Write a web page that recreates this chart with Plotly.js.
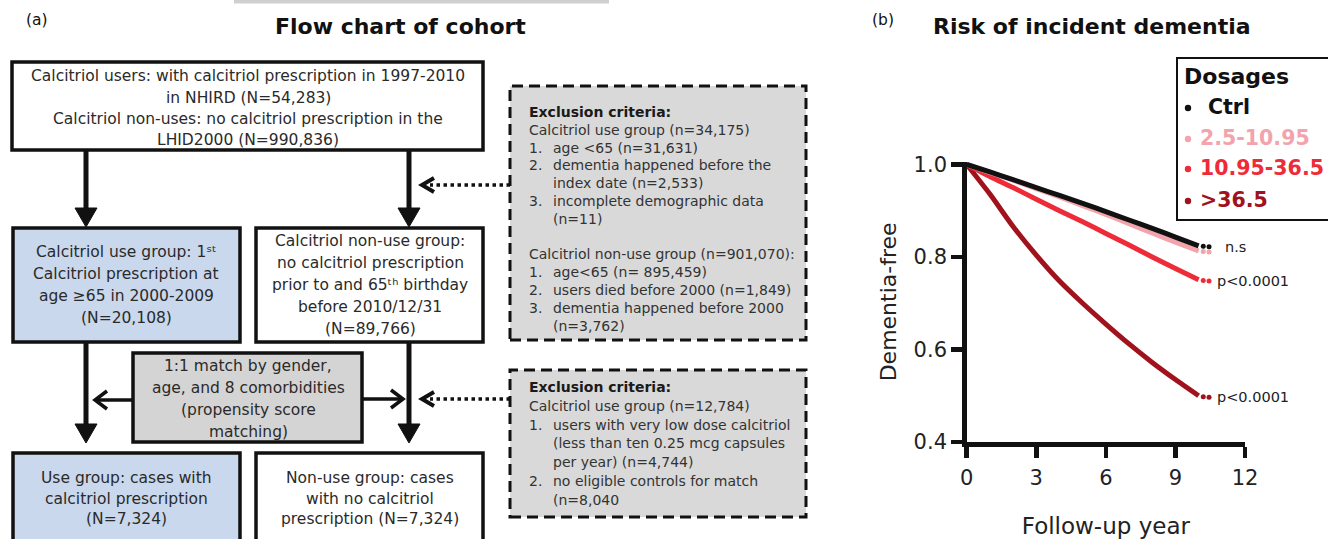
<!DOCTYPE html>
<html><head><meta charset="utf-8">
<script src="https://cdn.plot.ly/plotly-3.0.1.min.js"></script>
<style>html,body{margin:0;padding:0;background:#fff;}#chart{width:1328px;height:539px;}</style>
</head><body><div id="chart"></div>
<script>
// ---------------- data ----------------
const years     = [0, 1, 2, 3, 4, 5, 6, 7, 8, 9, 10];
const ctrlFree  = [1.000, 0.984, 0.967, 0.950, 0.933, 0.916, 0.898, 0.880, 0.862, 0.843, 0.824];
const lowFree   = [1.000, 0.983, 0.966, 0.948, 0.930, 0.911, 0.892, 0.872, 0.852, 0.832, 0.813];
const midFree   = [1.000, 0.974, 0.950, 0.925, 0.900, 0.876, 0.851, 0.826, 0.800, 0.775, 0.751];
const highFree  = [1.000, 0.936, 0.866, 0.804, 0.748, 0.700, 0.655, 0.612, 0.572, 0.535, 0.500];
const tailYears = [10.2, 10.45];
const ctrlTail  = [0.823, 0.822];
const lowTail   = [0.812, 0.811];
const midTail   = [0.749, 0.748];
const highTail  = [0.498, 0.497];
const doseNames = ['Ctrl', '2.5-10.95', '10.95-36.5', '>36.5'];
const pLabels   = ['n.s', '', 'p<0.0001', 'p<0.0001'];
const xTickVals = [0, 3, 6, 9, 12];
const yTickVals = [0.4, 0.6, 0.8, 1.0];

// ---------------- styles ----------------
const doseColors = ['#111111', '#f3a3ab', '#ee2c39', '#a0121c'];
const FONT = 'DejaVu Sans';
const W = 1328, H = 539;
const X = p => p / W;
const Y = p => 1 - p / H;

const survival = [ctrlFree, lowFree, midFree, highFree];
const tails = [ctrlTail, lowTail, midTail, highTail];

// ---------------- traces ----------------
const traces = [];
[3, 2, 1, 0].forEach(i => {
  traces.push({x: years, y: survival[i], mode: 'lines', type: 'scatter', name: doseNames[i],
    line: {color: doseColors[i], width: 5, shape: 'spline', smoothing: 0.6}, hoverinfo: 'skip'});
  traces.push({x: tailYears, y: tails[i], mode: 'markers', type: 'scatter', showlegend: false,
    marker: {color: doseColors[i], size: 5}, hoverinfo: 'skip'});
});

// ---------------- flow chart ----------------
const shapes = [], anns = [];
const INK = '#111';
function rect(x0, y0, x1, y1, fill, lw, dash) {
  shapes.push({type: 'rect', xref: 'paper', yref: 'paper', x0: X(x0), x1: X(x1), y0: Y(y1), y1: Y(y0),
    fillcolor: fill, line: {color: INK, width: lw, dash: dash || 'solid'}, layer: 'above'});
}
function seg(x0, y0, x1, y1, lw, dash) {
  shapes.push({type: 'line', xref: 'paper', yref: 'paper', x0: X(x0), y0: Y(y0), x1: X(x1), y1: Y(y1),
    line: {color: INK, width: lw, dash: dash || 'solid'}, layer: 'above'});
}
function poly(pts, fill, lw) {
  let d = 'M' + pts.map(p => X(p[0]).toFixed(5) + ',' + Y(p[1]).toFixed(5)).join('L');
  if (fill) d += 'Z';
  shapes.push({type: 'path', xref: 'paper', yref: 'paper', path: d,
    fillcolor: fill || 'rgba(0,0,0,0)', line: {color: INK, width: lw}, layer: 'above'});
}
function dot(cx, cy, r, color) {
  shapes.push({type: 'circle', xref: 'paper', yref: 'paper', x0: X(cx - r), x1: X(cx + r), y0: Y(cy + r), y1: Y(cy - r),
    fillcolor: color, line: {width: 0}, layer: 'above'});
}
function vArrow(x, y0, tip) {
  seg(x, y0, x, tip - 14, 5);
  poly([[x - 11, tip - 19], [x + 11, tip - 19], [x, tip]], INK, 1);
}
function hArrow(x0, tip, y) {
  const dir = tip < x0 ? 1 : -1;
  seg(x0, y, tip + dir * 2, y, 3.5);
  poly([[tip + dir * 12, y - 9], [tip, y], [tip + dir * 12, y + 9]], null, 3.5);
}
function dotArrow(x0, tip, y) {
  seg(x0, y, tip + 8, y, 3.5, 'dot');
  poly([[tip + 12, y - 7], [tip, y], [tip + 12, y + 7]], null, 4);
}
function txt(text, x, y, size, opts) {
  opts = opts || {};
  anns.push({text: text, xref: 'paper', yref: 'paper', x: X(x), y: Y(y), showarrow: false,
    xanchor: opts.anchor || 'center', yanchor: 'middle',
    font: {family: FONT, size: size, color: opts.color || '#2a2a2a', weight: opts.weight || 'normal'}});
}
function block(lines, cx, cy, sp, size) {
  lines.forEach((t, i) => txt(t, cx, cy + (i - (lines.length - 1) / 2) * sp, size));
}
function excl(items, y0, sp) {
  const fs = 14;
  items.forEach((it, i) => {
    const y = y0 + i * sp;
    if (it[0] === 'h') txt(it[1], 527, y, fs, {anchor: 'left', weight: 'bold', color: '#1a1a1a'});
    else if (it[0] === 'p') txt(it[1], 527, y, fs, {anchor: 'left', color: '#333'});
    else if (it[0] === 'b') {}
    else {
      if (it[0]) txt(it[0], 527, y, fs, {anchor: 'left', color: '#333'});
      txt(it[1], 551, y, fs, {anchor: 'left', color: '#333'});
    }
  });
}

// top strip
shapes.push({type: 'rect', xref: 'paper', yref: 'paper', x0: X(234), x1: X(609), y0: Y(3.5), y1: Y(0),
  fillcolor: '#cfcfcf', line: {width: 0}, layer: 'above'});

rect(12, 62, 483, 150, '#ffffff', 3.5);
vArrow(86, 150, 227);
vArrow(409, 150, 227);
rect(13, 228, 240, 342, '#c9d8ec', 3.5);
rect(256, 228, 483, 342, '#ffffff', 3.5);
vArrow(86, 342, 443);
vArrow(409, 342, 443);
rect(133, 353, 362, 442, '#d4d4d4', 3.5);
hArrow(133, 95, 400);
hArrow(362, 403, 399);
rect(510, 86, 806, 340, '#d9d9d9', 3, '11px,6px');
rect(510, 370, 806, 517, '#d9d9d9', 3, '11px,6px');
dotArrow(510, 422, 185);
dotArrow(510, 422, 399);
rect(13, 453, 240, 570, '#c9d8ec', 3.5);
rect(256, 453, 483, 570, '#ffffff', 3.5);

block(['Calcitriol users: with calcitriol prescription in 1997-2010', 'in NHIRD (N=54,283)',
       'Calcitriol non-uses: no calcitriol prescription in the', 'LHID2000 (N=990,836)'], 248, 108, 21, 15.5);
block(['Calcitriol use group: 1ˢᵗ', 'Calcitriol prescription at', 'age ≥65 in 2000-2009', '(N=20,108)'],
      126, 285, 22, 15.5);
block(['Calcitriol non-use group:', 'no calcitriol prescription', 'prior to and 65ᵗʰ birthday',
       'before 2010/12/31', '(N=89,766)'], 370, 285, 22, 15.5);
block(['1:1 match by gender,', 'age, and 8 comorbidities', '(propensity score', 'matching)'], 248, 399, 21.7, 15.5);
block(['Use group: cases with', 'calcitriol prescription', '(N=7,324)'], 126, 498.5, 20.7, 15.5);
block(['Non-use group: cases', 'with no calcitriol', 'prescription (N=7,324)'], 370, 498.5, 20.7, 15.5);

excl([['h', 'Exclusion criteria:'], ['p', 'Calcitriol use group (n=34,175)'],
      ['1.', 'age <65 (n=31,631)'], ['2.', 'dementia happened before the'], ['', 'index date (n=2,533)'],
      ['3.', 'incomplete demographic data'], ['', '(n=11)'], ['b', ''],
      ['p', 'Calcitriol non-use group (n=901,070):'], ['1.', 'age<65 (n= 895,459)'],
      ['2.', 'users died before 2000 (n=1,849)'], ['3.', 'dementia happened before 2000'], ['', '(n=3,762)']],
     112, 17.8);
excl([['h', 'Exclusion criteria:'], ['p', 'Calcitriol use group (n=12,784)'],
      ['1.', 'users with very low dose calcitriol'], ['', '(less than ten 0.25 mcg capsules'],
      ['', 'per year) (n=4,744)'], ['2.', 'no eligible controls for match'], ['', '(n=8,040']],
     386.7, 18.9);

// panel titles
txt('(a)', 37, 20, 15.5, {color: '#111'});
txt('Flow chart of cohort', 400, 27, 22, {weight: 'bold', color: '#111'});
txt('(b)', 883, 20, 15.5, {color: '#111'});
txt('Risk of incident dementia', 931, 27, 22, {weight: 'bold', color: '#111', anchor: 'left'});

// legend box
rect(1177, 58, 1345, 220, 'rgba(0,0,0,0)', 2);
txt('Dosages', 1182, 77, 22, {anchor: 'left', weight: 'bold', color: '#111'});
const legY = [107, 138, 168, 200];
doseNames.forEach((n, i) => {
  dot(1188, legY[i] + 1, 3.2, doseColors[i]);
  txt(n, i === 0 ? 1206 : 1198, legY[i], 20.5, {anchor: 'left', weight: 'bold', color: doseColors[i]});
});

// p-value labels at curve ends (data coordinates)
pLabels.forEach((t, i) => {
  if (!t) return;
  anns.push({text: t, xref: 'x', yref: 'y', x: tailYears[tailYears.length - 1] + (t === 'n.s' ? 0.6 : 0.27),
    y: tails[i][tails[i].length - 1], xanchor: 'left', yanchor: 'middle', showarrow: false,
    font: {family: FONT, size: 14.5, color: '#222'}});
});

const axisFont = {family: FONT, size: 21, color: '#222'};
const layout = {
  width: W, height: H, margin: {l: 0, r: 0, t: 0, b: 0, pad: 0},
  paper_bgcolor: '#ffffff', plot_bgcolor: '#ffffff', showlegend: false,
  font: {family: FONT},
  xaxis: {domain: [X(966.7), X(1245)], range: [0, 12], tickvals: xTickVals, ticktext: xTickVals.map(String),
    showline: true, linewidth: 4.5, linecolor: INK, ticks: 'outside', ticklen: 11, tickwidth: 4.5, tickcolor: INK,
    showgrid: false, zeroline: false, tickfont: axisFont, ticklabelstandoff: 2, fixedrange: true, automargin: false,
    title: {text: 'Follow-up year', font: {family: FONT, size: 23, color: '#222'}, standoff: 34}},
  yaxis: {domain: [Y(442), Y(161.7)], range: [0.4, 1.006], tickvals: yTickVals, ticktext: yTickVals.map(v => v.toFixed(1)),
    showline: true, linewidth: 4.5, linecolor: INK, ticks: 'outside', ticklen: 11, tickwidth: 4.5, tickcolor: INK,
    showgrid: false, zeroline: false, tickfont: axisFont, ticklabelstandoff: 0, fixedrange: true, automargin: false,
    title: {text: 'Dementia-free', font: {family: FONT, size: 22, color: '#222'}, standoff: 12}},
  shapes: shapes, annotations: anns
};
Plotly.newPlot('chart', traces, layout, {displayModeBar: false, staticPlot: true});
</script></body></html>
